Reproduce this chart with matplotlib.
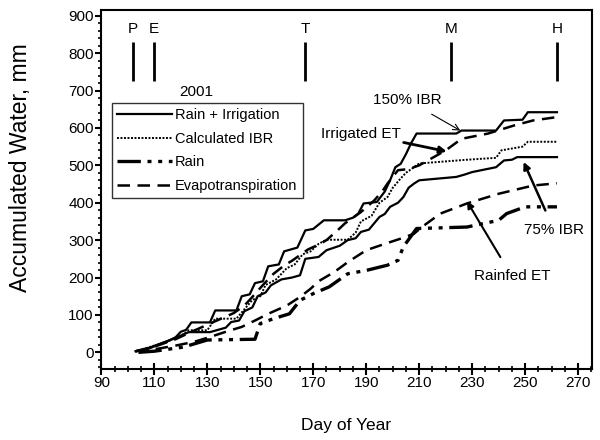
import matplotlib.pyplot as plt
from matplotlib.ticker import MultipleLocator

plt.rcParams['font.family'] = ['Liberation Sans', 'DejaVu Sans']

# Day of year / accumulated water (mm)
irr150_day = [103, 108, 112, 115, 118, 120, 122, 124, 131, 133, 141, 143, 146, 148, 151, 153, 157, 159, 164, 167,
              170, 174, 182, 185, 187, 189, 194, 197, 199, 201, 203, 205, 207, 209, 224, 226, 239, 242, 249, 251, 262]
irr150_mm = [3, 10, 22, 30, 40, 55, 60, 80, 80, 112, 112, 150, 155, 185, 190, 230, 235, 270, 280, 326,
             330, 353, 353, 360, 371, 398, 402, 430, 460, 495, 504, 530, 560, 585, 585, 593, 593, 620, 622, 642, 642]

irr75_day = [103, 108, 113, 118, 121, 123, 131, 134, 137, 139, 142, 144, 147, 149, 152, 154, 158, 162, 165, 167,
             172, 175, 180, 183, 186, 188, 191, 193, 195, 197, 199, 202, 204, 206, 208, 210, 224, 227, 230, 239,
             242, 245, 247, 262]
irr75_mm = [3, 12, 25, 38, 48, 54, 54, 60, 66, 81, 85, 110, 120, 150, 160, 179, 195, 200, 206, 250,
            255, 273, 285, 300, 305, 322, 328, 345, 362, 370, 389, 400, 415, 440, 451, 460, 469, 475, 482, 495,
            513, 515, 522, 522]

ibr_day = [103, 110, 115, 118, 121, 123, 130, 133, 141, 144, 147, 150, 152, 156, 160, 163, 166, 169, 172, 175,
           183, 186, 188, 192, 195, 198, 200, 203, 205, 208, 210, 228, 239, 241, 249, 251, 262]
ibr_mm = [3, 18, 28, 40, 48, 59, 59, 90, 90, 115, 140, 150, 180, 195, 225, 235, 262, 270, 290, 301,
          301, 320, 350, 365, 400, 415, 440, 465, 480, 495, 505, 515, 520, 540, 550, 563, 563]

et_irr_day = [103, 110, 118, 125, 132, 140, 144, 147, 151, 155, 159, 162, 168, 172, 175, 179, 182, 185, 188, 193,
              196, 198, 202, 206, 210, 215, 220, 226, 236, 246, 253, 262]
et_irr_mm = [3, 15, 35, 58, 80, 105, 125, 148, 180, 210, 232, 245, 275, 288, 300, 325, 345, 360, 375, 406,
             430, 451, 487, 490, 500, 520, 540, 571, 585, 607, 620, 629]

et_rf_day = [103, 110, 118, 125, 131, 137, 143, 148, 153, 160, 165, 169, 172, 178, 183, 190, 197, 203, 208, 211,
             218, 228, 240, 253, 262]
et_rf_mm = [3, 8, 18, 28, 41, 55, 68, 85, 103, 125, 148, 170, 190, 215, 241, 273, 290, 304, 317, 335,
            371, 398, 424, 446, 452]

rain_day = [104, 110, 115, 121, 130, 148, 150, 155, 161, 165, 170, 176, 183, 190, 198, 202, 204, 209, 228, 240,
            243, 250, 262]
rain_mm = [0, 3, 8, 14, 33, 35, 77, 90, 103, 139, 157, 175, 210, 219, 233, 246, 282, 331, 335, 353,
           371, 389, 389]

# growth stage markers
stage_labels = ['P', 'E', 'T', 'M', 'H']
stage_days = [102, 110, 167, 222, 262]

x_ticks = list(range(90, 271, 20))

fig = plt.figure(figsize=(6, 4.4), dpi=100)
ax = fig.add_axes([0.168, 0.161, 0.819, 0.816])

ax.plot(irr150_day, irr150_mm, color='black', lw=1.6, ls='-', label='Rain + Irrigation')
ax.plot(irr75_day, irr75_mm, color='black', lw=1.6, ls='-')
ax.plot(ibr_day, ibr_mm, color='black', lw=1.4, ls=(0, (1, 0.8)), label='Calculated IBR')
ax.plot(rain_day, rain_mm, color='black', lw=2.4, ls=(0, (7, 2, 1.2, 2, 1.2, 2)), label='Rain')
ax.plot(et_irr_day, et_irr_mm, color='black', lw=1.8, ls=(0, (5, 3)), label='Evapotranspiration')
ax.plot(et_rf_day, et_rf_mm, color='black', lw=1.8, ls=(0, (5, 3)))

# stage marks along the top
ax.vlines(stage_days, 725, 830, color='black', lw=2)
for d, s in zip(stage_days, stage_labels):
    ax.text(d, 845, s, ha='center', va='bottom', fontsize=11)
ax.text(126, 695, '2001', ha='center', va='center', fontsize=11)

# annotations
ax.annotate('150% IBR', xy=(225.5, 593), xytext=(205.5, 674), ha='center', va='center', fontsize=11,
            arrowprops=dict(arrowstyle='->', color='black', lw=0.8, shrinkA=6, shrinkB=0))
ax.annotate('Irrigated ET', xy=(220.4, 537), xytext=(188, 585), ha='center', va='center', fontsize=11,
            arrowprops=dict(arrowstyle='-|>', color='black', lw=2, shrinkA=32, shrinkB=0, mutation_scale=10))
ax.annotate('75% IBR', xy=(249.4, 509), xytext=(261, 326), ha='center', va='center', fontsize=11,
            arrowprops=dict(arrowstyle='-|>', color='black', lw=1.8, shrinkA=8, shrinkB=0, mutation_scale=10))
ax.annotate('Rainfed ET', xy=(228, 404), xytext=(245, 203), ha='center', va='center', fontsize=11,
            arrowprops=dict(arrowstyle='-|>', color='black', lw=1.5, shrinkA=8, shrinkB=0, mutation_scale=10))

# axes
ax.set_xlim(89.8, 275.3)
ax.set_ylim(-45, 915)
ax.set_xticks(x_ticks)
ax.xaxis.set_minor_locator(MultipleLocator(5))
ax.yaxis.set_major_locator(MultipleLocator(100))
ax.yaxis.set_minor_locator(MultipleLocator(20))
ax.tick_params(axis='x', which='major', direction='inout', length=8, width=1.5, labelsize=11, pad=1)
ax.tick_params(axis='x', which='minor', direction='inout', length=5, width=1.2)
ax.tick_params(axis='y', which='major', direction='out', length=4, width=1.5, labelsize=11, pad=1)
ax.tick_params(axis='y', which='minor', direction='out', length=2, width=1.2)
for sp in ax.spines.values():
    sp.set_linewidth(1.5)

ax.set_xlabel('Day of Year', fontsize=12.5, labelpad=20)
ax.set_ylabel('Accumulated Water, mm', fontsize=16.5)
ax.yaxis.set_label_coords(-0.14, 0.56)

leg = ax.legend(loc='upper left', bbox_to_anchor=(0.022, 0.741), borderaxespad=0, fontsize=10.5,
                frameon=True, fancybox=False, edgecolor='black', handlelength=3.8, handletextpad=0.2,
                labelspacing=0.65, borderpad=0.35)
leg.get_frame().set_linewidth(1)

plt.savefig('out.png', dpi=100)
